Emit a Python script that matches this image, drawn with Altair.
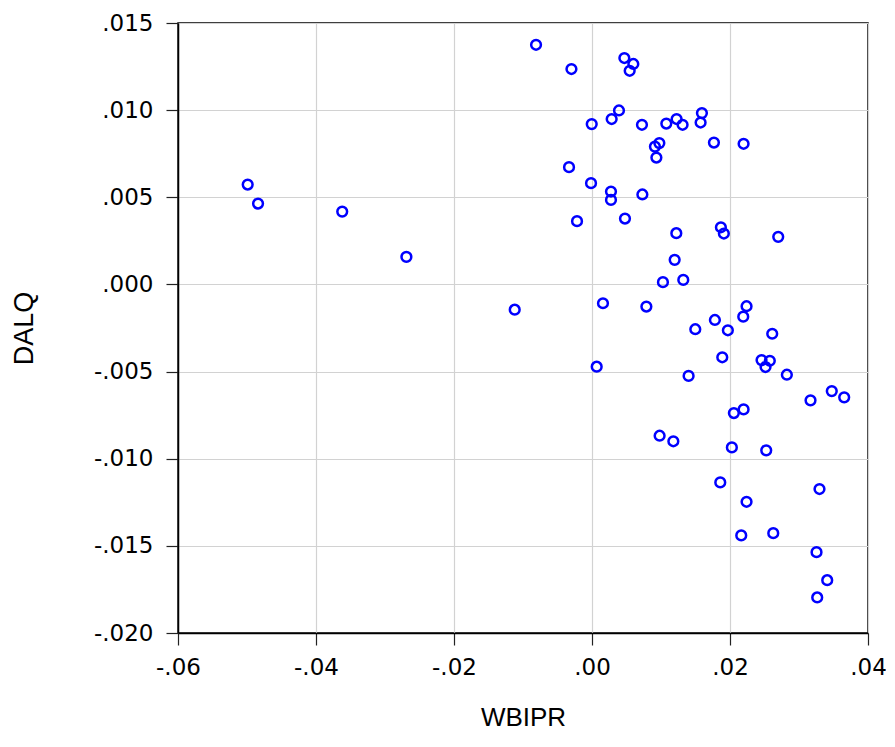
import altair as alt
import pandas as pd

# WBIPR (x) and DALQ (y) values
wbipr = [
    -0.0499, -0.0484, -0.0362, -0.0269, -0.0112,
    -0.00811, -0.00298, 0.00469, 0.00599, 0.00546, 0.00391, 0.00285, -0.00004,
    0.00724, 0.01077, 0.01226, 0.01313, 0.01593, 0.01574, 0.01767, 0.02197,
    0.00976, 0.00912, 0.00933, -0.00333, -0.00014, 0.00275, 0.00275, 0.00730,
    -0.00217, 0.00478, 0.01222, 0.01868, 0.01911, 0.02699, 0.01198, 0.01028,
    0.01323,
    0.00159, 0.00788, 0.02240, 0.02192, 0.01781, 0.01497, 0.01969, 0.02612,
    0.00068, 0.01888, 0.02457, 0.02577, 0.02515, 0.01400, 0.02824, 0.03475,
    0.03655, 0.03167, 0.02197, 0.02056, 0.00980, 0.01179, 0.02027, 0.02525,
    0.01859, 0.03297, 0.02240, 0.02163, 0.02627, 0.03254, 0.03409, 0.03264,
]
dalq = [
    0.00573, 0.00464, 0.00418, 0.00158, -0.00145,
    0.01375, 0.01236, 0.01299, 0.01265, 0.01226, 0.00998, 0.00949, 0.00920,
    0.00916, 0.00923, 0.00949, 0.00916, 0.00983, 0.00929, 0.00814, 0.00807,
    0.00811, 0.00791, 0.00728, 0.00673, 0.00581, 0.00533, 0.00485, 0.00516,
    0.00363, 0.00378, 0.00294, 0.00328, 0.00292, 0.00273, 0.00141, 0.00013,
    0.00026,
    -0.00108, -0.00127, -0.00125, -0.00185, -0.00204, -0.00257, -0.00263, -0.00283,
    -0.00472, -0.00418, -0.00434, -0.00438, -0.00474, -0.00525, -0.00518, -0.00612,
    -0.00648, -0.00665, -0.00717, -0.00738, -0.00868, -0.00900, -0.00935, -0.00952,
    -0.01136, -0.01174, -0.01247, -0.01440, -0.01427, -0.01536, -0.01697, -0.01796,
]

x_ticks = [-0.06, -0.04, -0.02, 0.0, 0.02, 0.04]
y_ticks = [-0.020, -0.015, -0.010, -0.005, 0.0, 0.005, 0.010, 0.015]

df = pd.DataFrame({"WBIPR": wbipr, "DALQ": dalq})

FONT = "DejaVu Sans"

chart = alt.Chart(df).mark_point(
    shape="circle", filled=False, color="#0000ff", size=95, strokeWidth=2.5, opacity=1
).encode(
    x=alt.X(
        "WBIPR:Q",
        scale=alt.Scale(domain=[-0.06, 0.04], nice=False, zero=False),
        axis=alt.Axis(
            values=x_ticks,
            labelExpr="(datum.value < -0.0001 ? '-' : '') + replace(format(abs(datum.value), '.2f'), '0.', '.')",
            title="WBIPR",
            titleX=345,
            titleY=92,
            titleBaseline="alphabetic",
            titleFontSize=26,
            titleFontWeight="normal",
            titleFont="Liberation Sans",
            labelFontSize=23,
            labelFont=FONT,
            labelPadding=11,
            tickSize=12,
            labelFlush=False,
            labelOverlap=False,
        ),
    ),
    y=alt.Y(
        "DALQ:Q",
        scale=alt.Scale(domain=[-0.020, 0.015], nice=False, zero=False),
        axis=alt.Axis(
            values=y_ticks,
            labelExpr="(datum.value < -0.0001 ? '-' : '') + replace(format(abs(datum.value), '.3f'), '0.', '.')",
            title="DALQ",
            titleX=-154,
            titleY=305,
            titleAngle=270,
            titleBaseline="middle",
            titleFontSize=27,
            titleFontWeight="normal",
            titleFont="Liberation Sans",
            labelFontSize=23,
            labelFont=FONT,
            labelPadding=13,
            tickSize=12,
            labelFlush=False,
            labelOverlap=False,
        ),
    ),
).properties(
    width=690,
    height=610,
    autosize=alt.AutoSizeParams(type="none"),
    padding={"left": 170, "top": 15, "right": 18, "bottom": 99},
).configure_view(
    stroke="#000000",
    strokeWidth=1.5,
).configure_axis(
    domainColor="#000000",
    domainWidth=1.5,
    tickColor="#222222",
    tickWidth=1.2,
    gridColor="#d2d2d2",
    gridWidth=1.2,
    labelColor="#000000",
    titleColor="#000000",
)

chart.save("out.html", embed_options={"renderer": "svg", "actions": False})
